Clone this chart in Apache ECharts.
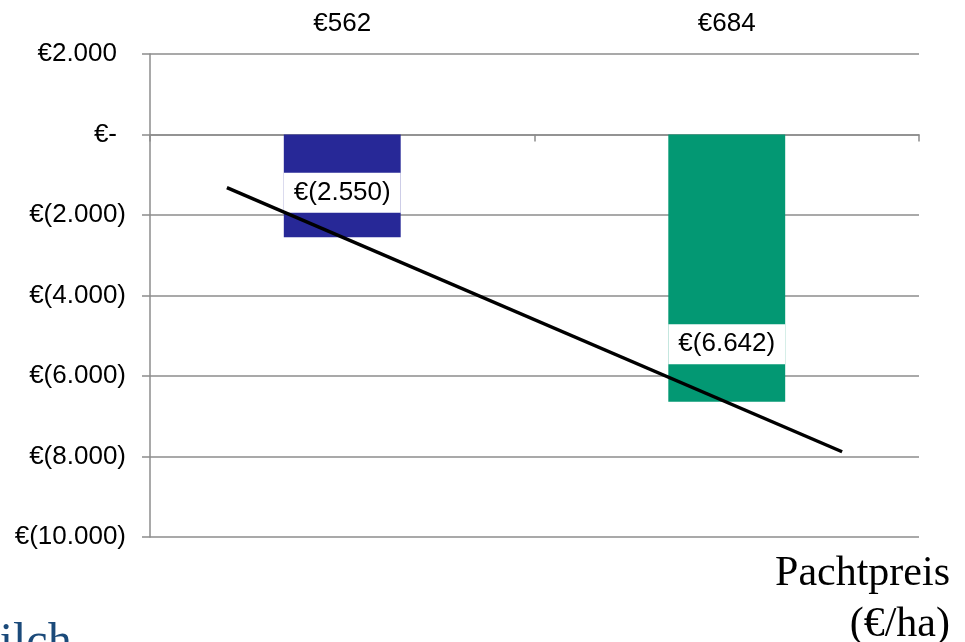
<!DOCTYPE html>
<html>
<head>
<meta charset="utf-8">
<script src="https://cdn.jsdelivr.net/npm/echarts@6/dist/echarts.min.js"></script>
<style>
html,body{margin:0;padding:0;background:#fff;}
#c{width:965px;height:642px;}
</style>
</head>
<body>
<div id="c"></div>
<script>
// Data
var categories = ['€562', '€684'];          // Pachtpreis (€/ha)
var barValues = [-2550, -6642];
var barColors = ['#272897', '#039873'];
var trendX = [0.2, 1.8];                    // trendline x (category units)
var trendY = [-1318, -7882];               // trendline values
var yTickValues = [-10000, -8000, -6000, -4000, -2000, 0, 2000];
var yTickLabels = ['€(10.000)', '€(8.000)', '€(6.000)', '€(4.000)', '€(2.000)', '€-', '€2.000'];
var labelOffsets = [[0, 7], [0, 76]];

var SANS = 'Liberation Sans, Arial, sans-serif';
var SERIF = 'Liberation Serif, Times New Roman, serif';
var GRID = '#8c8c8c';

function fmt(v) {
  var s = String(Math.abs(Math.round(v)));
  s = s.replace(/\B(?=(\d{3})+(?!\d))/g, '.');
  return v < 0 ? '€(' + s + ')' : '€' + s;
}

var chart = echarts.init(document.getElementById('c'));
chart.setOption({
  animation: false,
  backgroundColor: '#fff',
  grid: { left: 150, right: 46, top: 54, bottom: 105 },
  xAxis: [
    {
      type: 'category', data: categories, position: 'bottom',
      axisLine: { show: true, onZero: true, lineStyle: { color: GRID, width: 1.5 } },
      axisTick: { show: true, length: 7, lineStyle: { color: GRID, width: 1.5 } },
      axisLabel: { show: false },
      splitLine: { show: false }
    },
    {
      type: 'category', data: categories, position: 'top',
      axisLine: { show: false, onZero: false },
      axisTick: { show: false },
      axisLabel: { show: true, margin: 17, fontFamily: SANS, fontSize: 26, color: '#000' },
      splitLine: { show: false }
    },
    {
      type: 'value', min: 0, max: 2, show: false
    }
  ],
  yAxis: {
    type: 'value', min: -10000, max: 2000, interval: 2000,
    axisLine: { show: true, lineStyle: { color: GRID, width: 1.5 } },
    axisTick: { show: true, length: 8, lineStyle: { color: GRID, width: 1.5 } },
    splitLine: { show: true, lineStyle: { color: GRID, width: 1.5 } },
    axisLabel: {
      margin: 24, fontFamily: SANS, fontSize: 26, color: '#000',
      formatter: function (v) {
        var i = yTickValues.indexOf(v);
        var t = i >= 0 ? yTickLabels[i] : fmt(v);
        return v < 0 ? t : '{p|' + t + '}';
      },
      rich: { p: { padding: [0, 9, 0, 0], fontFamily: SANS, fontSize: 26, color: '#000' } }
    }
  },
  series: [
    {
      type: 'bar', xAxisIndex: 0, yAxisIndex: 0, barWidth: '30.4%',
      data: barValues.map(function (v, i) {
        return {
          value: v,
          itemStyle: { color: barColors[i] },
          label: { offset: labelOffsets[i] }
        };
      }),
      label: {
        show: true, position: 'inside', fontFamily: SANS, fontSize: 26, color: '#000',
        backgroundColor: '#fff', padding: [7, 10],
        formatter: function (p) { return fmt(p.value); }
      }
    },
    {
      type: 'line', xAxisIndex: 2, yAxisIndex: 0, showSymbol: false, symbol: 'none',
      lineStyle: { color: '#000', width: 3.5 },
      data: trendX.map(function (x, i) { return [x, trendY[i]]; }),
      z: 5
    }
  ],
  graphic: [
    {
      type: 'text', x: 950, y: 551,
      style: {
        text: 'Pachtpreis', fill: '#000', font: '42px ' + SERIF,
        align: 'right', verticalAlign: 'top', lineHeight: 46
      }
    },
    {
      type: 'text', x: 950, y: 602,
      style: {
        text: '(€/ha)', fill: '#000', font: '42px ' + SERIF,
        align: 'right', verticalAlign: 'top', lineHeight: 46
      }
    },
    {
      type: 'text', x: -43, y: 619,
      style: { text: 'Milch', fill: '#1b4a7a', font: '48px ' + SERIF, verticalAlign: 'top' }
    }
  ]
});
</script>
</body>
</html>
